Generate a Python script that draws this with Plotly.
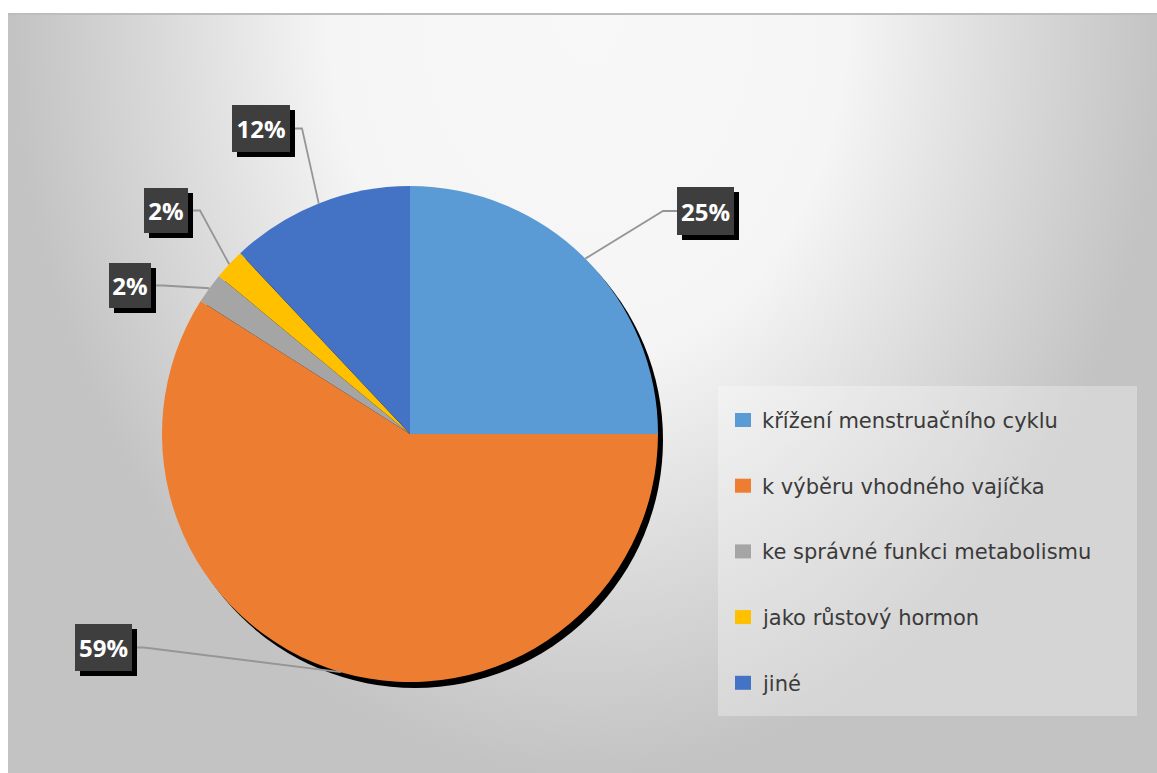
import math
import base64
import plotly.graph_objects as go

# Chart data
categories = [
    "křížení menstruačního cyklu",
    "k výběru vhodného vajíčka",
    "ke správné funkci metabolismu",
    "jako růstový hormon",
    "jiné",
]
shares = [25, 59, 2, 2, 12]
colors = ["#5B9BD5", "#ED7D31", "#A5A5A5", "#FFC000", "#4472C4"]

# Canvas / layout geometry (pixels)
W, H = 1157, 773
AREA_X0, AREA_Y0 = 8, 14          # chart area top-left corner
CX, CY, R = 410, 434, 248         # pie centre and radius
SHADOW_DX, SHADOW_DY = 5, 6

# Label boxes: centre x, centre y, width, height, side of the leader line
label_boxes = [
    (705.5, 211, 57, 48, "left"),
    (103.5, 647.5, 57, 47, "right"),
    (130, 285.5, 42, 45, "right"),
    (166, 210.5, 44, 45, "right"),
    (261, 128.5, 58, 47, "right"),
]

# Custom legend geometry
LEG_X0, LEG_Y0, LEG_X1, LEG_Y1 = 718, 386, 1137, 716
LEG_FIRST_Y, LEG_STEP = 420, 65.7
LEG_SWATCH_X, LEG_TEXT_X = 735, 760


def fx(x):
    return x / W


def fy(y):
    return 1 - y / H


# Background: radial gradient, light at the top centre, grey at the edges
bw, bh = W - AREA_X0, H - AREA_Y0
gcx, gcy, grx, gry = 580, 0, 575, 760
svg = (
    f'<svg xmlns="http://www.w3.org/2000/svg" width="{bw}" height="{bh}">'
    f'<defs><radialGradient id="g" gradientUnits="userSpaceOnUse" cx="{gcx}" cy="{gcy}" r="{grx}" '
    f'gradientTransform="translate({gcx},{gcy}) scale(1,{gry / grx}) translate({-gcx},{-gcy})">'
    '<stop offset="0" stop-color="#f8f8f8"/>'
    '<stop offset="0.45" stop-color="#f5f5f5"/>'
    '<stop offset="0.75" stop-color="#d9d9d9"/>'
    '<stop offset="1" stop-color="#c3c3c3"/>'
    '</radialGradient></defs>'
    f'<rect x="0" y="0" width="{bw}" height="{bh}" fill="url(#g)"/></svg>'
)
bg_src = "data:image/svg+xml;base64," + base64.b64encode(svg.encode("utf-8")).decode("ascii")

fig = go.Figure()

fig.add_trace(
    go.Pie(
        labels=categories,
        values=shares,
        marker=dict(colors=colors, line=dict(width=0)),
        sort=False,
        direction="clockwise",
        rotation=0,
        textinfo="none",
        hoverinfo="label+percent",
        showlegend=False,
        domain=dict(x=[fx(CX - R), fx(CX + R)], y=[fy(CY + R), fy(CY - R)]),
    )
)

shapes = []
annotations = []

# Pie drop shadow
shapes.append(
    dict(
        type="circle", xref="paper", yref="paper", layer="below",
        x0=fx(CX - R + SHADOW_DX), x1=fx(CX + R + SHADOW_DX),
        y0=fy(CY + R + SHADOW_DY), y1=fy(CY - R + SHADOW_DY),
        fillcolor="#000000", line=dict(width=0),
    )
)

# Top border of the chart area
shapes.append(
    dict(
        type="line", xref="paper", yref="paper", layer="above",
        x0=fx(AREA_X0), x1=1, y0=fy(AREA_Y0), y1=fy(AREA_Y0),
        line=dict(color="#bdbdbd", width=2),
    )
)

# Data labels with leader lines
total = sum(shares)
cum = 0.0
for value, (bx, by, bwid, bht, side) in zip(shares, label_boxes):
    mid = (cum + value / 2) / total * 2 * math.pi
    cum += value
    ex = CX + R * math.sin(mid)
    ey = CY - R * math.cos(mid)
    if side == "left":
        sx = bx - bwid / 2
        kx = sx - 14
    else:
        sx = bx + bwid / 2
        kx = sx + 12
    shapes.append(
        dict(
            type="path", xref="paper", yref="paper", layer="above",
            path=f"M {fx(sx)},{fy(by)} L {fx(kx)},{fy(by)} L {fx(ex)},{fy(ey)}",
            line=dict(color="#969696", width=1.8),
        )
    )
    text = f"<b>{round(100 * value / total)}%</b>"
    common = dict(
        xref="paper", yref="paper", x=fx(bx), y=fy(by),
        xanchor="center", yanchor="middle", showarrow=False,
        width=bwid, height=bht, borderpad=0, borderwidth=0,
        align="center", valign="middle",
        font=dict(family="Open Sans, DejaVu Sans, sans-serif", size=24, color="#ffffff"),
    )
    annotations.append(dict(common, text=" ", bgcolor="#000000", xshift=5, yshift=-5))
    annotations.append(dict(common, text=text, bgcolor="#3e3e3e"))

# Legend panel
shapes.append(
    dict(
        type="rect", xref="paper", yref="paper", layer="below",
        x0=fx(LEG_X0), x1=fx(LEG_X1), y0=fy(LEG_Y1), y1=fy(LEG_Y0),
        fillcolor="rgba(255,255,255,0.3)", line=dict(width=0),
    )
)
for i, (name, col) in enumerate(zip(categories, colors)):
    yc = LEG_FIRST_Y + i * LEG_STEP
    shapes.append(
        dict(
            type="rect", xref="paper", yref="paper", layer="above",
            x0=fx(LEG_SWATCH_X), x1=fx(LEG_SWATCH_X + 16),
            y0=fy(yc + 7), y1=fy(yc - 7),
            fillcolor=col, line=dict(width=0),
        )
    )
    annotations.append(
        dict(
            xref="paper", yref="paper", x=fx(LEG_TEXT_X), y=fy(yc + 1),
            xanchor="left", yanchor="middle", showarrow=False,
            text=name,
            font=dict(family="DejaVu Sans, sans-serif", size=21, color="#3a3a3a"),
        )
    )

fig.update_layout(
    width=W,
    height=H,
    margin=dict(l=0, r=0, t=0, b=0),
    paper_bgcolor="#ffffff",
    plot_bgcolor="rgba(0,0,0,0)",
    showlegend=False,
    shapes=shapes,
    annotations=annotations,
    images=[
        dict(
            source=bg_src, xref="paper", yref="paper",
            x=fx(AREA_X0), y=fy(AREA_Y0), sizex=bw / W, sizey=bh / H,
            xanchor="left", yanchor="top", sizing="stretch", layer="below",
        )
    ],
)

fig.write_html("out.html")
